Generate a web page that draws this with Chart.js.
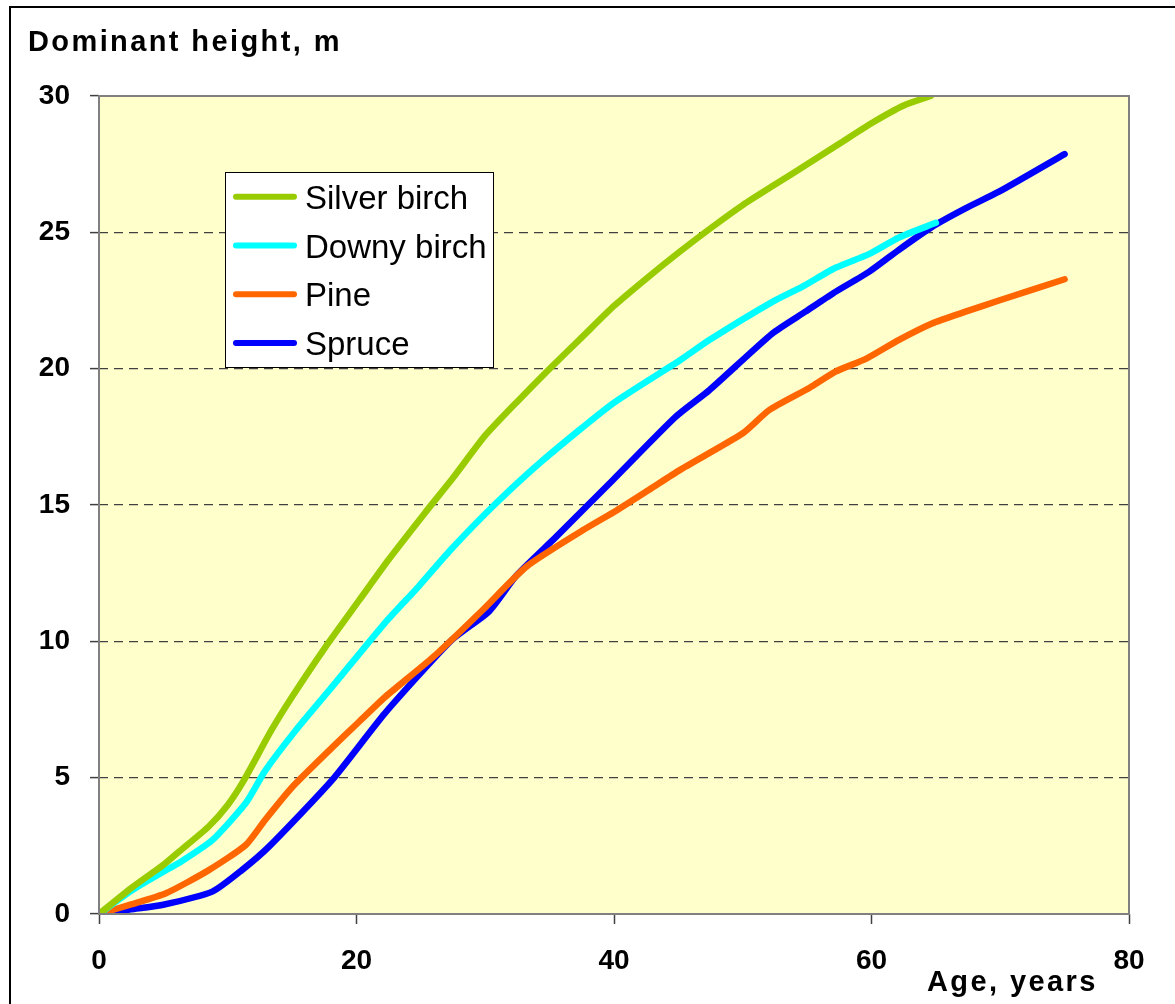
<!DOCTYPE html>
<html>
<head>
<meta charset="utf-8">
<script src="https://cdn.jsdelivr.net/npm/chart.js@4.4.0/dist/chart.umd.min.js"></script>
<style>
  html, body { margin: 0; padding: 0; background: #ffffff; }
  #wrap { width: 1175px; height: 1004px; position: relative; }
</style>
</head>
<body>
<div id="wrap"><canvas id="c"></canvas></div>
<script>
// ---- Data ----
const seriesNames = ["Silver birch", "Downy birch", "Pine", "Spruce"];

const silverAge    = [0, 2.5, 5, 6.2, 8.5, 10, 11.25, 13.4, 15, 17.6, 20.2, 22.5, 25.3, 27.5, 30, 32.5, 35, 37.5, 40, 42.5, 45, 47.5, 50, 52.5, 55, 57.5, 60, 62.5, 64.6];
const silverHeight = [0, 0.95, 1.8, 2.28, 3.2, 4.0, 4.9, 6.75, 7.97, 9.8, 11.5, 13.0, 14.7, 16.0, 17.55, 18.8, 20.0, 21.15, 22.3, 23.3, 24.25, 25.15, 26.0, 26.75, 27.5, 28.25, 29.0, 29.65, 30.0];

const downyAge     = [0, 2.5, 5, 6.2, 8.8, 11.4, 12.9, 15.3, 18.1, 22.2, 24.8, 27.3, 30.7, 34.5, 39.9, 45.1, 47.4, 52.3, 54.6, 57.2, 59.8, 62.1, 65];
const downyHeight  = [0, 0.85, 1.55, 1.87, 2.71, 4.07, 5.25, 6.75, 8.33, 10.67, 12.0, 13.35, 15.0, 16.65, 18.72, 20.3, 21.05, 22.45, 23.0, 23.7, 24.2, 24.8, 25.35];

const pineAge      = [0, 2.5, 5.2, 8.5, 11.4, 12.9, 15, 18.1, 20.2, 22.2, 25.9, 29.8, 33.2, 37.6, 40.2, 42.7, 45.1, 50, 52.05, 55.2, 57.2, 59.6, 62.1, 64.7, 67.3, 69.9, 75];
const pineHeight   = [0, 0.35, 0.76, 1.6, 2.53, 3.45, 4.65, 6.1, 7.05, 7.95, 9.4, 11.15, 12.74, 14.08, 14.8, 15.55, 16.28, 17.63, 18.48, 19.3, 19.89, 20.37, 21.05, 21.66, 22.09, 22.5, 23.28];

const spruceAge    = [0, 2.5, 4.9, 8.8, 11.1, 13.2, 18.1, 22.2, 27.4, 30.3, 32.4, 35.5, 39.9, 44.8, 47.4, 52.3, 54.9, 57.0, 59.8, 62.1, 64.7, 67.3, 69.9, 75];
const spruceHeight = [0, 0.17, 0.33, 0.82, 1.61, 2.47, 4.91, 7.36, 10.05, 11.1, 12.4, 13.83, 15.91, 18.24, 19.21, 21.29, 22.1, 22.76, 23.55, 24.35, 25.2, 25.88, 26.49, 27.87];

const xTicks = [0, 20, 40, 60, 80];
const yTicks = [0, 5, 10, 15, 20, 25, 30];

const yTitle = "Dominant height, m";
const xTitle = "Age, years";

const colors = ["#99CC00", "#00FFFF", "#FF6600", "#0000FF"];

function pts(ages, hs) { return ages.map((a, i) => ({ x: a, y: hs[i] })); }
const allAges = [silverAge, downyAge, pineAge, spruceAge];
const allHeights = [silverHeight, downyHeight, pineHeight, spruceHeight];

const datasets = seriesNames.map((n, i) => ({
  label: n,
  data: pts(allAges[i], allHeights[i]),
  borderColor: colors[i],
  backgroundColor: colors[i],
  borderWidth: 6.5,
  pointRadius: 0,
  tension: 0.2,
  borderCapStyle: 'round',
  borderJoinStyle: 'round',
  fill: false
}));

const FONT = '"Liberation Sans", Arial, sans-serif';

const decor = {
  id: 'decor',
  beforeDraw(chart) {
    const { ctx, chartArea: a } = chart;
    ctx.save();
    ctx.fillStyle = '#ffffff';
    ctx.fillRect(0, 0, chart.width, chart.height);
    ctx.fillStyle = '#FFFFCC';
    ctx.fillRect(a.left, a.top, a.right - a.left, a.bottom - a.top);
    ctx.restore();
  },
  afterDraw(chart) {
    const { ctx, chartArea: a } = chart;
    ctx.save();
    // plot border
    ctx.strokeStyle = '#808080';
    ctx.lineWidth = 2;
    ctx.strokeRect(a.left, a.top, a.right - a.left, a.bottom - a.top);
    // outer frame (left + top visible)
    ctx.strokeStyle = '#000000';
    ctx.lineWidth = 2;
    ctx.beginPath();
    ctx.moveTo(10, chart.height);
    ctx.lineTo(10, 7);
    ctx.lineTo(chart.width, 7);
    ctx.stroke();
    // titles
    ctx.fillStyle = '#000000';
    ctx.font = 'bold 29px ' + FONT;
    ctx.textAlign = 'left';
    ctx.textBaseline = 'alphabetic';
    try { ctx.letterSpacing = '2.4px'; } catch (e) {}
    ctx.fillText(yTitle, 28, 51);
    ctx.fillText(xTitle, 927, 991);
    try { ctx.letterSpacing = '0px'; } catch (e) {}
    // legend
    const lx = 225, ly = 172, lw = 268, lh = 195;
    ctx.fillStyle = '#ffffff';
    ctx.fillRect(lx, ly, lw, lh);
    ctx.strokeStyle = '#000000';
    ctx.lineWidth = 1;
    ctx.strokeRect(lx + 0.5, ly + 0.5, lw, lh);
    const rowY = [196.7, 245.5, 294.2, 343];
    chart.data.datasets.forEach((ds, i) => {
      const y = rowY[i];
      ctx.strokeStyle = ds.borderColor;
      ctx.lineWidth = 6;
      ctx.lineCap = 'round';
      ctx.beginPath();
      ctx.moveTo(236, y);
      ctx.lineTo(294, y);
      ctx.stroke();
      ctx.fillStyle = '#000000';
      ctx.font = '33px ' + FONT;
      ctx.fillText(ds.label, 305, y + 12);
    });
    ctx.restore();
  }
};

new Chart(document.getElementById('c'), {
  type: 'line',
  data: { datasets },
  plugins: [decor],
  options: {
    responsive: true,
    maintainAspectRatio: false,
    animation: false,
    layout: { padding: { left: 0, top: 96, right: 46, bottom: 0 } },
    plugins: { legend: { display: false }, tooltip: { enabled: false }, title: { display: false } },
    scales: {
      x: {
        type: 'linear',
        min: 0, max: 80,
        afterFit(s) { s.height = 90; },
        afterBuildTicks(s) { s.ticks = xTicks.map(v => ({ value: v })); },
        ticks: { color: '#000', padding: 20, font: { family: FONT, size: 28, weight: 'bold' } },
        grid: { drawOnChartArea: false, drawTicks: true, tickLength: 10, tickColor: '#404040', tickWidth: 1.5 },
        border: { display: false }
      },
      y: {
        type: 'linear',
        min: 0, max: 30,
        afterFit(s) { s.width = 99; },
        afterBuildTicks(s) { s.ticks = yTicks.map(v => ({ value: v })); },
        ticks: { color: '#000', padding: 20, font: { family: FONT, size: 28, weight: 'bold' } },
        grid: {
          drawTicks: true, tickLength: 9,
          color: c => (c.tick && (c.tick.value === 0 || c.tick.value === 30)) ? 'rgba(0,0,0,0)' : '#404040',
          tickColor: '#404040', lineWidth: 1.2, tickWidth: 1.5, tickBorderDash: []
        },
        border: { display: false, dash: [9, 6] }
      }
    }
  }
});
</script>
</body>
</html>
